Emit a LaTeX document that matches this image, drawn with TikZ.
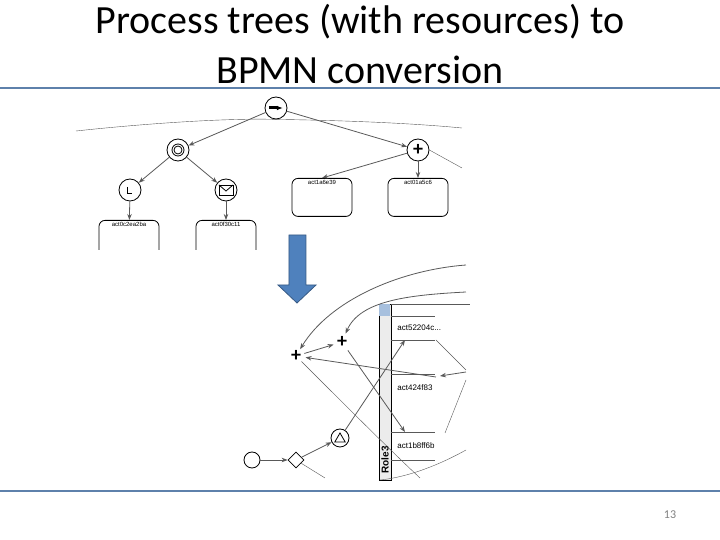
\documentclass[tikz,border=0pt]{standalone}
\usepackage{fontspec}
\setmainfont{Carlito}
\newfontfamily\diagfont{Liberation Sans}
\usetikzlibrary{positioning}
\usetikzlibrary{arrows.meta}
\usetikzlibrary{shapes.geometric}

\definecolor{slideblue}{RGB}{79,129,189}
\tikzset{
  gate/.style={circle,draw,thin,minimum size=11pt,inner sep=0pt,fill=white},
  task/.style={draw,thin,rounded corners=3pt,minimum width=30pt,minimum height=19pt},
  flow/.style={thin,-{Stealth[length=3pt]}},
  wire/.style={very thin,gray!70!black},
  tiny/.style={font=\diagfont\fontsize{3}{3}\selectfont,inner sep=1pt}
}

\begin{document}
\begin{tikzpicture}[x=0.5pt,y=-0.5pt]
\useasboundingbox (0,0) rectangle (720,540);
% title
\node [font=\fontsize{20}{20}\selectfont] (title1) at (360,22) {Process trees (with resources) to};
\node [font=\fontsize{20}{20}\selectfont] (title2) at (360,70) {BPMN conversion};
\draw [line width=1.2pt,color=slideblue!70!gray] (0,88) -- (720,88);
\draw [line width=1.2pt,color=slideblue!70!gray] (0,491) -- (720,491);
\node [font=\fontsize{6}{6}\selectfont,color=gray] (page) at (670,515) {13};

% process tree
\begin{scope}
    \node [gate] (seq) at (276,108) {\tikz\draw[line width=1.5pt,-{Latex[length=3pt]}] (0,0) -- (7pt,0);};
    \node [gate] (loop) at (178,150) {\tikz{\draw (0,0) circle (3pt); \draw (0,0) circle (2pt);}};
    \node [gate] (and) at (418,150) {\textbf{+}};
    \node [gate] (timer) at (130,190) {\tikz\draw (0,3pt) -- (0,0) -- (2.5pt,0);};
    \node [gate] (msg) at (226,190) {\tikz{\draw (0,0) rectangle (7pt,5pt); \draw (0,5pt) -- (3.5pt,2pt) -- (7pt,5pt);}};
    \node [task,anchor=north] (t1) at (129,220) {};
    \node [task,anchor=north] (t2) at (226,220) {};
    \node [task,anchor=north] (t3) at (322,178) {};
    \node [task,anchor=north] (t4) at (418,178) {};
    \node [tiny,anchor=north] at (t1.north) {act0c2ea2ba};
    \node [tiny,anchor=north] at (t2.north) {act0f30c11};
    \node [tiny,anchor=north] at (t3.north) {act1a6e39};
    \node [tiny,anchor=north] at (t4.north) {act01a5c6};
\end{scope}
\fill [white] (95,250) rectangle (260,262);

\begin{scope}[every path/.style={wire}]
     \draw (76,131) .. controls (150,123) and (230,118) .. (seq.south);
     \draw (seq.south) .. controls (320,120) and (400,122) .. (462,128);
     \draw (and.east) -- (462,168);
     \draw [flow] (seq) -- (loop);
     \draw [flow] (seq) -- (and);
     \draw [flow] (loop) -- (timer);
     \draw [flow] (loop) -- (msg);
     \draw [flow] (timer) -- (t1);
     \draw [flow] (msg) -- (t2);
     \draw [flow] (and) -- (t3.north);
     \draw [flow] (and) -- (t4);
\end{scope}

% big arrow
\fill [slideblue,draw=slideblue!70!black,thin]
  (289,235) -- (306,235) -- (306,285) -- (316,285) -- (297,303) -- (278,285) -- (289,285) -- cycle;

% bpmn
\begin{scope}
    \node [circle,draw,thin,minimum size=8pt,inner sep=0pt] (start) at (252,460) {};
    \node [diamond,draw,thin,minimum size=8pt,inner sep=0pt] (xor) at (296,460) {};
    \node [gate,minimum size=9pt] (tri) at (340,438) {};
    \node [regular polygon,regular polygon sides=3,draw,thin,minimum size=6pt,inner sep=0pt] at (340,439) {};
    \node [diamond,minimum size=8pt,inner sep=0pt] (join) at (296,356) {\textbf{+}};
    \node [minimum size=8pt,inner sep=0pt] (split) at (342,342) {\textbf{+}};
    \draw [thin,fill=gray!15] (379,304) rectangle (391,480);
    \fill [slideblue!50] (379.5,304.5) rectangle (390.5,316);
    \node [rotate=90,font=\diagfont\fontsize{5}{5}\selectfont\bfseries,anchor=west,inner sep=1pt] (role) at (385,476) {Role3};
    \node [tiny,anchor=west,font=\diagfont\fontsize{4}{4}\selectfont] (a1) at (395,328) {act52204c...};
    \node [tiny,anchor=west,font=\diagfont\fontsize{4}{4}\selectfont] (a2) at (395,388) {act424f83};
    \node [tiny,anchor=west,font=\diagfont\fontsize{4}{4}\selectfont] (a3) at (395,446) {act1b8ff6b};
    \coordinate (a1w) at (405,340);
    \coordinate (a2e) at (436,377);
    \coordinate (a3w) at (405,432);
\end{scope}
\begin{scope}[every path/.style={wire}]
     \draw (391,304) -- (470,304);
     \draw (391,316) -- (435,316);
     \draw (391,340) -- (435,340);
     \draw (391,374) -- (435,374);
     \draw (391,432) -- (435,432);
     \draw (391,460) -- (435,460);
     \draw [flow] (start) -- (xor);
     \draw [flow] (xor) -- (tri);
     \draw [flow] (join) -- (split);
     \draw [flow] (tri) -- (a1w);
     \draw [flow] (split) -- (a3w);
     \draw [flow] (a2e) -- (join);
     \draw [flow] (466,265) .. controls (400,270) and (330,300) .. (join);
     \draw [flow] (466,292) .. controls (410,295) and (360,300) .. (split);
     \draw (join) .. controls (340,400) and (390,450) .. (420,478);
     \draw (xor) -- (325,478);
     \draw (466,450) .. controls (430,470) and (400,478) .. (380,480);
     \draw (436,340) -- (466,370);
     \draw [flow] (466,372) -- (440,376);
     \draw (466,380) -- (445,433);
\end{scope}
\end{tikzpicture}
\end{document}
